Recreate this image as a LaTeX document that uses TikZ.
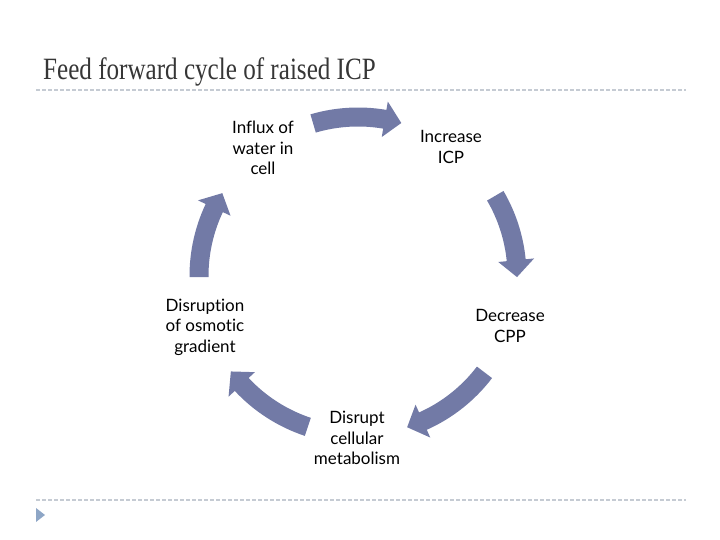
\documentclass[tikz,border=0pt]{standalone}
\usepackage{fontspec}
\setmainfont{Liberation Serif}
\newfontfamily\nhanfont[Ligatures=NoCommon]{Lato}
\definecolor{muitencolor}{HTML}{727AA6}
\definecolor{tieudecolor}{HTML}{363636}
\definecolor{gachcolor}{HTML}{C5CBD3}
\definecolor{tamgiaccolor}{HTML}{8EA6C6}
\tikzset{
	nhan/.style={align=center,font=\nhanfont\fontsize{17}{20.5}\selectfont,inner sep=0pt},
	cyclearrow/.style={fill=muitencolor},
	gach/.style={gachcolor,line width=1.3pt,dash pattern=on 3.6pt off 2.4pt}
}
\begin{document}
\begin{tikzpicture}[x=1pt,y=1pt]
			\useasboundingbox (0,0) rectangle (720,540);
			%			Tieu de
			\node[anchor=base west,inner sep=0pt,text=tieudecolor,font=\fontsize{31}{36}\selectfont] (title) at (43,460) {\scalebox{0.81}[1]{Feed forward cycle of raised ICP}};
			\draw[gach] (36,450) -- (686,450);
			\draw[gach] (36,40) -- (686,40);
			\fill[tamgiaccolor] (36,32) -- (45,25) -- (36,18) -- cycle;
			%			Vong mui ten
			\begin{scope}[shift={(358,264)}]
			\fill[cyclearrow] (106.4:168.5) arc[start angle=106.4,end angle=80.3,radius=168.5] -- (80.3:177) -- (74.2:159) -- (80.3:141) -- (80.3:149.5) arc[start angle=80.3,end angle=106.4,radius=149.5] -- cycle;
			\fill[cyclearrow] (30.3:168.5) arc[start angle=30.3,end angle=5.7,radius=168.5] -- (5.7:177) -- (-0.4:159) -- (5.7:141) -- (5.7:149.5) arc[start angle=5.7,end angle=30.3,radius=149.5] -- cycle;
			\fill[cyclearrow] (-37.3:168.5) arc[start angle=-37.3,end angle=-65.9,radius=168.5] -- (-65.9:177) -- (-72:159) -- (-65.9:141) -- (-65.9:149.5) arc[start angle=-65.9,end angle=-37.3,radius=149.5] -- cycle;
			\fill[cyclearrow] (-108.4:168.5) arc[start angle=-108.4,end angle=-137,radius=168.5] -- (-137:177) -- (-143.1:159) -- (-137:141) -- (-137:149.5) arc[start angle=-137,end angle=-108.4,radius=149.5] -- cycle;
			\fill[cyclearrow] (180.4:168.5) arc[start angle=180.4,end angle=154.7,radius=168.5] -- (154.7:177) -- (148.6:159) -- (154.7:141) -- (154.7:149.5) arc[start angle=154.7,end angle=180.4,radius=149.5] -- cycle;
			\end{scope}
			%			Nhan
			\node[nhan] (influx) at (263,392) {Influx of\\water in\\cell};
			\node[nhan] (increase) at (451,393) {Increase\\ICP};
			\node[nhan] (decrease) at (510,214) {Decrease\\CPP};
			\node[nhan] (disrupt) at (357,102) {Disrupt\\cellular\\metabolism};
			\node[nhan] (disruption) at (205,213) {Disruption\\of osmotic\\gradient};
\end{tikzpicture}
\end{document}
